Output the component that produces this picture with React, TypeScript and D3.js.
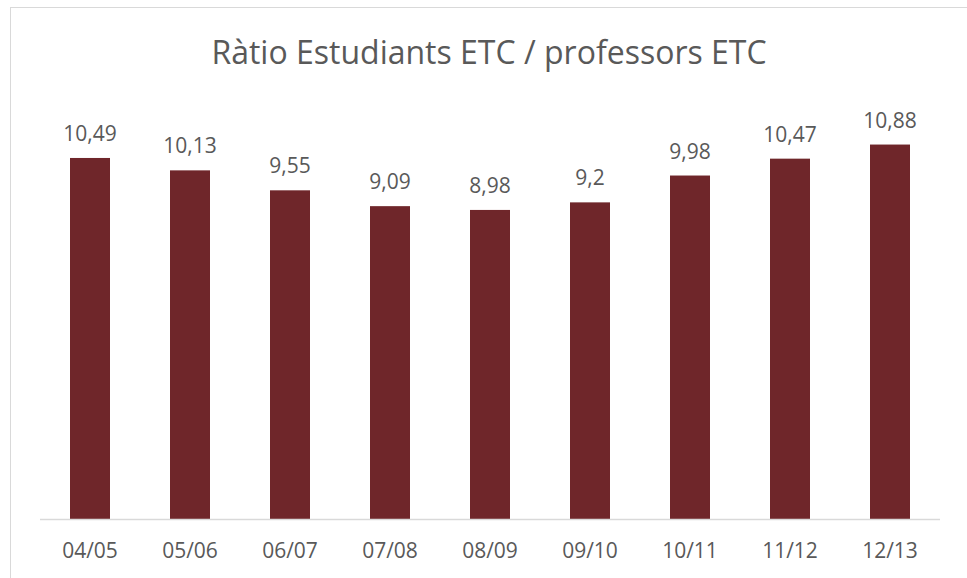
import React, { useEffect, useRef } from "react";
import * as d3 from "d3";

const categories = ["04/05", "05/06", "06/07", "07/08", "08/09", "09/10", "10/11", "11/12", "12/13"];
const ratios = [10.49, 10.13, 9.55, 9.09, 8.98, 9.2, 9.98, 10.47, 10.88];
const labels = ["10,49", "10,13", "9,55", "9,09", "8,98", "9,2", "9,98", "10,47", "10,88"];

export default function App() {
  const ref = useRef<SVGSVGElement>(null);

  useEffect(() => {
    const svg = d3.select(ref.current);
    svg.selectAll("*").remove();

    const font = "'Open Sans', sans-serif";

    // chart frame
    svg.append("rect")
      .attr("x", 10.5).attr("y", 7.5)
      .attr("width", 980).attr("height", 600)
      .attr("fill", "#fff").attr("stroke", "#d9d9d9");

    svg.append("text")
      .text("Ràtio Estudiants ETC / professors ETC")
      .attr("x", 489).attr("y", 64)
      .attr("text-anchor", "middle")
      .attr("font-family", font).attr("font-size", 32)
      .attr("fill", "#595959");

    const x = d3.scaleBand().domain(categories).range([40, 940]).paddingInner(0.6).paddingOuter(0.3);
    const y = d3.scaleLinear().domain([0, 12]).range([519, 106]);

    const items = categories.map((c, i) => ({ c, v: ratios[i], label: labels[i] }));

    svg.selectAll(".bar").data(items).join("rect")
      .attr("x", (d) => x(d.c)!)
      .attr("y", (d) => y(d.v))
      .attr("width", x.bandwidth())
      .attr("height", (d) => y(0) - y(d.v))
      .attr("fill", "#6f262a");

    svg.append("line")
      .attr("x1", 40).attr("x2", 940)
      .attr("y1", 519.5).attr("y2", 519.5)
      .attr("stroke", "#d9d9d9").attr("stroke-width", 1.5);

    svg.selectAll(".val").data(items).join("text")
      .text((d) => d.label)
      .attr("x", (d) => x(d.c)! + x.bandwidth() / 2)
      .attr("y", (d) => y(d.v) - 17)
      .attr("text-anchor", "middle")
      .attr("font-family", font).attr("font-size", 21)
      .attr("fill", "#595959");

    svg.selectAll(".tick").data(items).join("text")
      .text((d) => d.c)
      .attr("x", (d) => x(d.c)! + x.bandwidth() / 2)
      .attr("y", 558)
      .attr("text-anchor", "middle")
      .attr("font-family", font).attr("font-size", 21)
      .attr("fill", "#595959");
  }, []);

  return (
    <svg
      ref={ref}
      width={967}
      height={578}
      style={{ position: "absolute", left: 0, top: 0, display: "block" }}
    />
  );
}
